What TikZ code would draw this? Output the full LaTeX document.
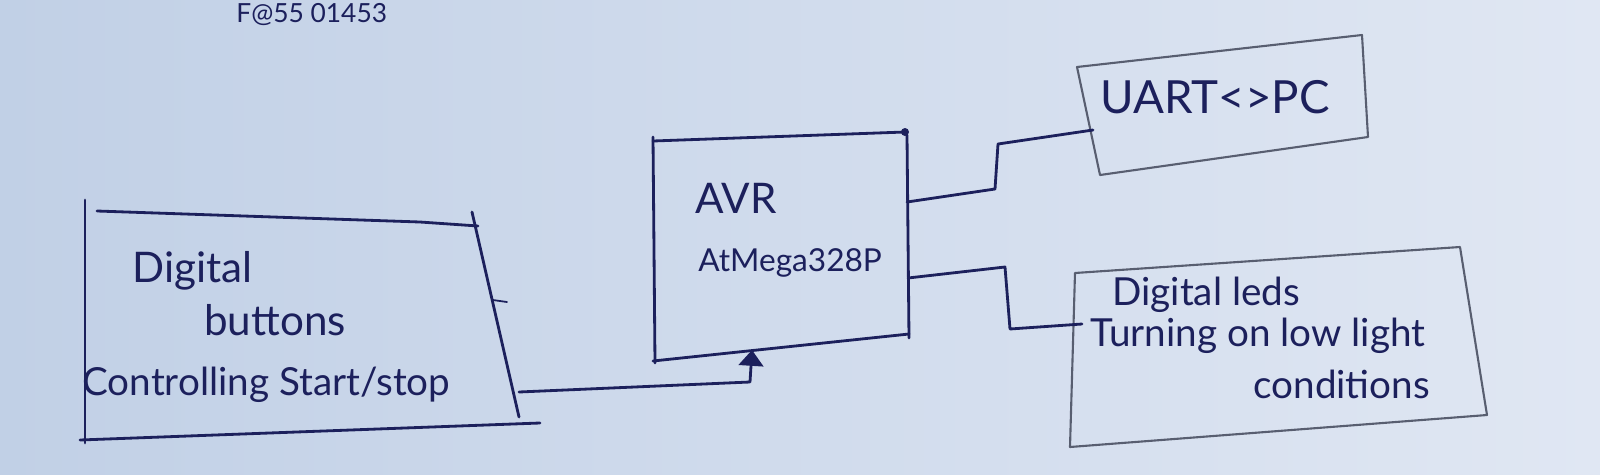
\documentclass[tikz,border=0pt]{standalone}
\usepackage{fontspec}
\setmainfont{Lato}
\usetikzlibrary{arrows.meta}
\definecolor{ink}{RGB}{28,32,92}
\definecolor{pencil}{RGB}{88,94,112}
\definecolor{paperA}{RGB}{193,208,230}
\definecolor{paperB}{RGB}{224,231,243}
\tikzset{
  inkline/.style={draw=ink, line width=1.6pt, line cap=round, line join=round},
  penline/.style={draw=pencil, line width=1.2pt, line cap=round, line join=round},
  hand/.style={text=ink, font=\fontsize{22}{26}\selectfont, inner sep=0pt, anchor=base west},
  bighand/.style={hand, font=\fontsize{24}{28}\selectfont},
  smallhand/.style={hand, font=\fontsize{18}{22}\selectfont},
}
\begin{document}
\begin{tikzpicture}[x=0.02cm,y=-0.02cm]
\useasboundingbox (0,0) rectangle (1600,474);
\clip (0,0) rectangle (1600,474);
\shade[left color=paperA, right color=paperB] (0,0) rectangle (1600,474);
% top note
\node[hand, font=\fontsize{15}{18}\selectfont] (note) at (236,22) {F@55 01453};
% ---- left box: Digital buttons
\coordinate (b1) at (85,200);
\coordinate (b2) at (85,443);
\coordinate (b3) at (97,211);
\coordinate (b4) at (478,226);
\coordinate (b5) at (472,212);
\coordinate (b6) at (519,417);
\coordinate (b7) at (80,440);
\coordinate (b8) at (540,423);
\draw[inkline] (b1) -- (b2);
\draw[inkline] (b3) -- (420,222) -- (b4);
\draw[inkline] (b5) -- (b6);
\draw[inkline] (b7) -- (b8);
\draw[inkline, line width=1pt] (493,300) -- (507,302);
\node[bighand] (t1) at (132,282) {Digital};
\node[bighand] (t2) at (204,335) {buttons};
\node[hand] (t3) at (82,395) {Controlling Start/stop};
% ---- AVR box
\coordinate (a1) at (653,137);
\coordinate (a2) at (655,363);
\coordinate (a3) at (653,141);
\coordinate (a4) at (905,132);
\coordinate (a5) at (907,135);
\coordinate (a6) at (909,338);
\coordinate (a7) at (653,361);
\coordinate (a8) at (909,334);
\draw[inkline] (a1) -- (a2);
\draw[inkline] (a3) -- (a4);
\draw[inkline] (a5) -- (a6);
\draw[inkline] (a7) -- (a8);
\fill[ink] (a4) circle (4);
\node[bighand] (avr) at (695,213) {AVR};
\node[smallhand] (mcu) at (698,271) {AtMega328P};
% ---- UART box
\coordinate (u1) at (1077,67);
\coordinate (u2) at (1362,35);
\coordinate (u3) at (1368,137);
\coordinate (u4) at (1100,175);
\draw[penline] (u1) -- (u2) -- (u3) -- (u4) -- cycle;
\node[hand, font=\fontsize{26}{30}\selectfont] (uart) at (1100,113) {UART<>PC};
% ---- LEDs box
\coordinate (l1) at (1075,273);
\coordinate (l2) at (1460,247);
\coordinate (l3) at (1487,415);
\coordinate (l4) at (1070,447);
\draw[penline] (l1) -- (l2) -- (l3) -- (l4) -- cycle;
\node[hand] (led1) at (1112,305) {Digital leds};
\node[hand] (led2) at (1090,346) {Turning on low light};
\node[hand] (led3) at (1253,398) {conditions};
% ---- connectors
\coordinate (c1) at (519,392);
\coordinate (c1a) at (750,382);
\coordinate (c1b) at (752,350);
\draw[inkline, -{Triangle[width=14pt,length=9pt]}] (c1) -- (c1a) -- (c1b);
\coordinate (c2) at (907,202);
\coordinate (c2a) at (995,189);
\coordinate (c2b) at (998,144);
\coordinate (c2c) at (1093,130);
\draw[inkline] (c2) -- (c2a) -- (c2b) -- (c2c);
\coordinate (c3) at (908,278);
\coordinate (c3a) at (1005,267);
\coordinate (c3b) at (1010,329);
\coordinate (c3c) at (1082,324);
\draw[inkline] (c3) -- (c3a) -- (c3b) -- (c3c);
\end{tikzpicture}
\end{document}
